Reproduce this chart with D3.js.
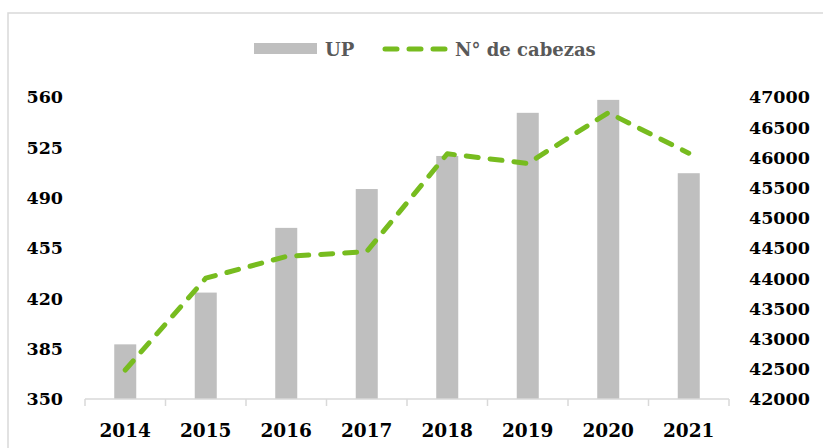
<!DOCTYPE html>
<html lang="es">
<head>
    <meta charset="UTF-8">
    <title>UP y N° de cabezas</title>
    <script src="https://d3js.org/d3.v7.min.js"></script>
    <style>
        body { margin: 0; background: #fff; }
        svg { display: block; font-family: "DejaVu Serif", serif; font-weight: bold; }
        .tick-label { font-size: 17.5px; fill: #000; }
        .legend-label { font-size: 18px; fill: #595959; }
    </style>
</head>
<body>
    <svg id="chart" width="823" height="448"></svg>

    <script>
    const years = ['2014', '2015', '2016', '2017', '2018', '2019', '2020', '2021'];
    const up = [388, 424, 469, 496, 519, 549, 558, 507];
    const cabezas = [42480, 44000, 44360, 44440, 46060, 45900, 46740, 46070];
    const leftTicks = [350, 385, 420, 455, 490, 525, 560];
    const rightTicks = [42000, 42500, 43000, 43500, 44000, 44500, 45000, 45500, 46000, 46500, 47000];

    const width = 823, height = 448;
    const margin = {left: 85, right: 94, top: 97, bottom: 49};
    const svg = d3.select('#chart');

    // outer frame
    svg.append('rect')
        .attr('x', 8).attr('y', 13)
        .attr('width', width).attr('height', height)
        .attr('fill', 'none')
        .attr('stroke', '#d9d9d9')
        .attr('stroke-width', 1.5);

    const x = d3.scaleBand()
        .domain(years)
        .range([margin.left, width - margin.right]);

    const yLeft = d3.scaleLinear()
        .domain([350, 560])
        .range([height - margin.bottom, margin.top]);

    const yRight = d3.scaleLinear()
        .domain([42000, 47000])
        .range([height - margin.bottom, margin.top]);

    // bars
    const barW = 22;
    svg.append('g')
        .selectAll('rect')
        .data(years)
        .join('rect')
        .attr('x', d => x(d) + x.bandwidth() / 2 - barW / 2)
        .attr('y', (d, i) => yLeft(up[i]))
        .attr('width', barW)
        .attr('height', (d, i) => yLeft(350) - yLeft(up[i]))
        .attr('fill', '#bfbfbf');

    // x axis line and ticks
    const base = yLeft(350);
    svg.append('line')
        .attr('x1', margin.left).attr('x2', width - margin.right)
        .attr('y1', base).attr('y2', base)
        .attr('stroke', '#d9d9d9').attr('stroke-width', 1.5);

    svg.append('g')
        .selectAll('line')
        .data(years.concat(['end']))
        .join('line')
        .attr('x1', (d, i) => margin.left + i * x.bandwidth())
        .attr('x2', (d, i) => margin.left + i * x.bandwidth())
        .attr('y1', base).attr('y2', base + 7)
        .attr('stroke', '#d9d9d9').attr('stroke-width', 1.5);

    svg.append('g')
        .selectAll('text')
        .data(years)
        .join('text')
        .attr('class', 'tick-label')
        .attr('x', d => x(d) + x.bandwidth() / 2)
        .attr('y', 437)
        .attr('text-anchor', 'middle')
        .style('font-size', '18.5px')
        .text(d => d);

    // left axis labels
    svg.append('g')
        .selectAll('text')
        .data(leftTicks)
        .join('text')
        .attr('class', 'tick-label')
        .attr('x', 63)
        .attr('y', d => yLeft(d))
        .attr('dy', '0.36em')
        .attr('text-anchor', 'end')
        .text(d => d);

    // right axis labels
    svg.append('g')
        .selectAll('text')
        .data(rightTicks)
        .join('text')
        .attr('class', 'tick-label')
        .attr('x', 749)
        .attr('y', d => yRight(d))
        .attr('dy', '0.36em')
        .attr('text-anchor', 'start')
        .text(d => d);

    // line series
    const line = d3.line()
        .x((d, i) => x(years[i]) + x.bandwidth() / 2)
        .y(d => yRight(d));

    svg.append('path')
        .datum(cabezas)
        .attr('d', line)
        .attr('fill', 'none')
        .attr('stroke', '#77bc1f')
        .attr('stroke-width', 5)
        .attr('stroke-linecap', 'round')
        .attr('stroke-linejoin', 'round')
        .attr('stroke-dasharray', '12,12');

    // legend
    const legend = svg.append('g');
    legend.append('rect')
        .attr('x', 254).attr('y', 43)
        .attr('width', 63).attr('height', 11)
        .attr('fill', '#bfbfbf');
    legend.append('text')
        .attr('class', 'legend-label')
        .attr('x', 325).attr('y', 56)
        .text('UP');
    legend.append('line')
        .attr('x1', 385).attr('x2', 450)
        .attr('y1', 49).attr('y2', 49)
        .attr('stroke', '#77bc1f')
        .attr('stroke-width', 5)
        .attr('stroke-linecap', 'round')
        .attr('stroke-dasharray', '12,12');
    legend.append('text')
        .attr('class', 'legend-label')
        .attr('x', 455).attr('y', 56)
        .text('N° de cabezas');
    </script>
</body>
</html>
